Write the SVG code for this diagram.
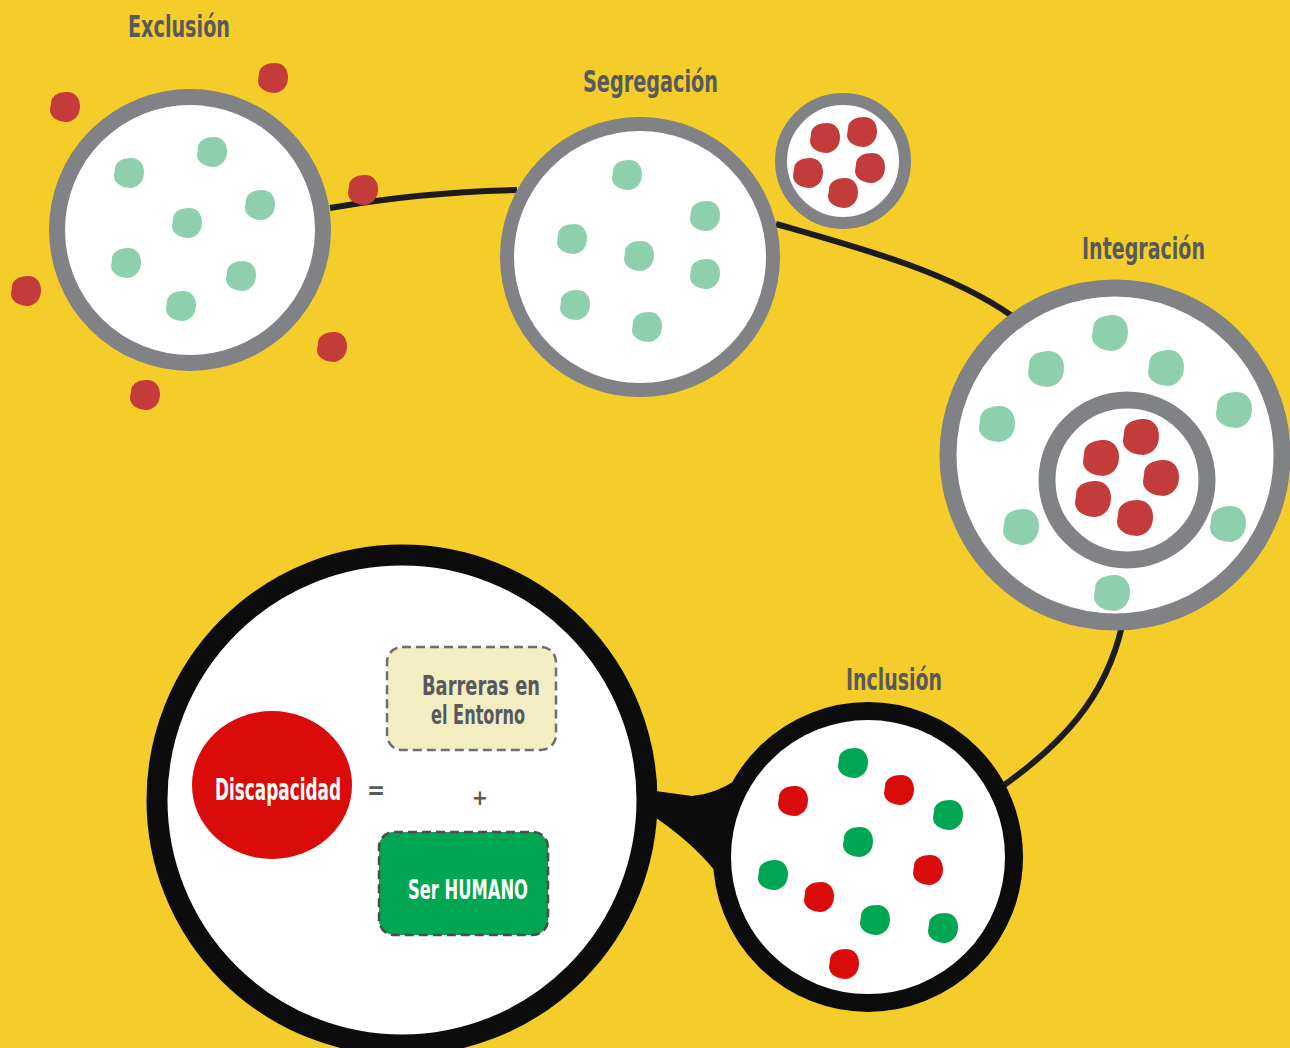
<svg xmlns="http://www.w3.org/2000/svg" xmlns:xlink="http://www.w3.org/1999/xlink" width="1290" height="1048" viewBox="0 0 1290 1048">
<style>
.ring{fill:#fff;stroke:#808285}
.title{font-family:"DejaVu Sans Condensed","Liberation Sans Narrow","Liberation Sans",sans-serif;font-weight:bold;fill:#58595B;font-size:30px}
.lbl{font-family:"DejaVu Sans Condensed","Liberation Sans Narrow","Liberation Sans",sans-serif;font-weight:bold;font-size:26px}
.lg{fill:#8ECFAE}.rd{fill:#C33B3B}.dg{fill:#00A651}.br{fill:#D90B0B}
.conn{fill:none;stroke:#1c1c1c;stroke-width:6}
</style>
<defs>
<path id="b" d="M-14,-4 C-14,-12 -5,-15 2,-15 C10,-15 15,-9 15,-1 C15,8 10,14 2,15 C-6,15 -15,11 -15,3 Z"/>
</defs>
<rect width="1290" height="1048" fill="#F4CD2A"/>
<g id="connectors">
<path class="conn" d="M330,208 Q420,192 517,190"/>
<path class="conn" d="M776,224 C860,248 950,272 1012,316"/>
<path class="conn" d="M1122,626 C1105,700 1060,745 1003,786"/>
<path fill="#0c0c0c" d="M648,790 L692,796 Q715,794 736,780 L730,850 L716,872 Q690,840 650,814 Z"/>
</g>
<g id="exclusion">
<text class="title" x="128" y="37" textLength="102" lengthAdjust="spacingAndGlyphs">Exclusión</text>
<circle class="ring" cx="190" cy="230" r="133" stroke-width="16"/>
<g class="lg">
<use xlink:href="#b" transform="translate(129,173)"/>
<use xlink:href="#b" transform="translate(212,152)"/>
<use xlink:href="#b" transform="translate(187,223)"/>
<use xlink:href="#b" transform="translate(260,205)"/>
<use xlink:href="#b" transform="translate(126,263)"/>
<use xlink:href="#b" transform="translate(241,276)"/>
<use xlink:href="#b" transform="translate(181,306)"/>
</g>
<g class="rd">
<use xlink:href="#b" transform="translate(65,107)"/>
<use xlink:href="#b" transform="translate(273,78)"/>
<use xlink:href="#b" transform="translate(363,190)"/>
<use xlink:href="#b" transform="translate(26,291)"/>
<use xlink:href="#b" transform="translate(332,347)"/>
<use xlink:href="#b" transform="translate(145,395)"/>
</g>
</g>
<g id="segregacion">
<text class="title" x="583" y="92" textLength="135" lengthAdjust="spacingAndGlyphs">Segregación</text>
<circle class="ring" cx="640" cy="257" r="133" stroke-width="14"/>
<g class="lg">
<use xlink:href="#b" transform="translate(627,175)"/>
<use xlink:href="#b" transform="translate(705,216)"/>
<use xlink:href="#b" transform="translate(572,239)"/>
<use xlink:href="#b" transform="translate(639,256)"/>
<use xlink:href="#b" transform="translate(705,274)"/>
<use xlink:href="#b" transform="translate(575,305)"/>
<use xlink:href="#b" transform="translate(647,327)"/>
</g>
</g>
<g id="segregados">
<circle class="ring" cx="843" cy="161" r="62" stroke-width="12"/>
<g class="rd">
<use xlink:href="#b" transform="translate(825,138)"/>
<use xlink:href="#b" transform="translate(862,132)"/>
<use xlink:href="#b" transform="translate(808,173)"/>
<use xlink:href="#b" transform="translate(870,168)"/>
<use xlink:href="#b" transform="translate(843,193)"/>
</g>
</g>
<g id="integracion">
<text class="title" x="1082" y="259" textLength="123" lengthAdjust="spacingAndGlyphs">Integración</text>
<circle class="ring" cx="1115" cy="455" r="167" stroke-width="17"/>
<circle class="ring" cx="1127" cy="480" r="80" stroke-width="17"/>
<g class="lg">
<use xlink:href="#b" transform="translate(1110,333) scale(1.2)"/>
<use xlink:href="#b" transform="translate(1046,369) scale(1.2)"/>
<use xlink:href="#b" transform="translate(1166,368) scale(1.2)"/>
<use xlink:href="#b" transform="translate(1234,410) scale(1.2)"/>
<use xlink:href="#b" transform="translate(997,424) scale(1.2)"/>
<use xlink:href="#b" transform="translate(1021,527) scale(1.2)"/>
<use xlink:href="#b" transform="translate(1228,524) scale(1.2)"/>
<use xlink:href="#b" transform="translate(1112,593) scale(1.2)"/>
</g>
<g class="rd">
<use xlink:href="#b" transform="translate(1141,437) scale(1.2)"/>
<use xlink:href="#b" transform="translate(1101,458) scale(1.2)"/>
<use xlink:href="#b" transform="translate(1161,478) scale(1.2)"/>
<use xlink:href="#b" transform="translate(1093,499) scale(1.2)"/>
<use xlink:href="#b" transform="translate(1135,518) scale(1.2)"/>
</g>
</g>
<g id="inclusion">
<text class="title" x="846" y="690" textLength="96" lengthAdjust="spacingAndGlyphs">Inclusión</text>
<circle cx="868" cy="857" r="146" fill="#fff" stroke="#0c0c0c" stroke-width="18"/>
<g class="dg">
<use xlink:href="#b" transform="translate(853,763)"/>
<use xlink:href="#b" transform="translate(948,815)"/>
<use xlink:href="#b" transform="translate(858,842)"/>
<use xlink:href="#b" transform="translate(773,875)"/>
<use xlink:href="#b" transform="translate(875,920)"/>
<use xlink:href="#b" transform="translate(943,928)"/>
</g>
<g class="br">
<use xlink:href="#b" transform="translate(793,801)"/>
<use xlink:href="#b" transform="translate(899,790)"/>
<use xlink:href="#b" transform="translate(928,870)"/>
<use xlink:href="#b" transform="translate(819,897)"/>
<use xlink:href="#b" transform="translate(844,964)"/>
</g>
</g>
<g id="lupa">
<circle cx="402" cy="800" r="245" fill="#fff" stroke="#0c0c0c" stroke-width="21"/>
</g>
<g id="discapacidad">
<ellipse cx="272" cy="785" rx="80" ry="74" fill="#D90B0B"/>
<text class="lbl" x="215" y="444.4" transform="scale(1,1.8)" style="font-size:17px" fill="#fff" textLength="126" lengthAdjust="spacingAndGlyphs">Discapacidad</text>
</g>
<g id="igual">
<text class="lbl" x="367" y="799" fill="#58595B" style="font-size:24px">=</text>
</g>
<g id="barreras">
<rect x="387" y="647" width="169" height="103" rx="15" fill="#F2EDC3" stroke="#6d6e71" stroke-width="2.5" stroke-dasharray="9,5"/>
<text class="lbl" x="422" y="695" fill="#58595B" textLength="118" lengthAdjust="spacingAndGlyphs">Barreras en</text>
<text class="lbl" x="431" y="724" fill="#58595B" textLength="94" lengthAdjust="spacingAndGlyphs">el Entorno</text>
</g>
<g id="mas">
<text class="lbl" x="480" y="805" fill="#58595B" text-anchor="middle" style="font-size:21px">+</text>
</g>
<g id="serhumano">
<rect x="379" y="832" width="169" height="103" rx="15" fill="#00A651" stroke="#4d4d4d" stroke-width="2.5" stroke-dasharray="9,5"/>
<text class="lbl" x="408" y="899" fill="#fff" textLength="120" lengthAdjust="spacingAndGlyphs">Ser HUMANO</text>
</g>
</svg>
